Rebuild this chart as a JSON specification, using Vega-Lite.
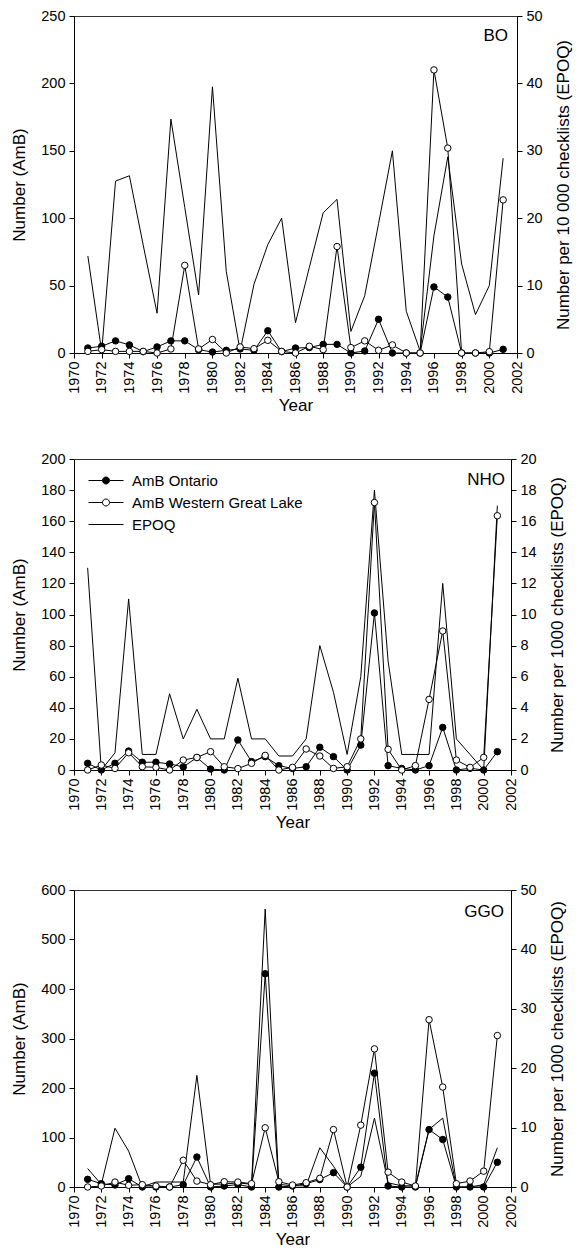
{
"$schema": "https://vega.github.io/schema/vega-lite/v6.json",
"padding": {"left": 10, "top": 7, "right": 5, "bottom": 0},
"data": {"values": [
{"panel":"BO","year":1971,"series":"AmB Ontario","value":3.7},
{"panel":"BO","year":1972,"series":"AmB Ontario","value":5},
{"panel":"BO","year":1973,"series":"AmB Ontario","value":9},
{"panel":"BO","year":1974,"series":"AmB Ontario","value":6},
{"panel":"BO","year":1975,"series":"AmB Ontario","value":1},
{"panel":"BO","year":1976,"series":"AmB Ontario","value":4.5},
{"panel":"BO","year":1977,"series":"AmB Ontario","value":9},
{"panel":"BO","year":1978,"series":"AmB Ontario","value":9},
{"panel":"BO","year":1979,"series":"AmB Ontario","value":2.5},
{"panel":"BO","year":1980,"series":"AmB Ontario","value":0.7},
{"panel":"BO","year":1981,"series":"AmB Ontario","value":2},
{"panel":"BO","year":1982,"series":"AmB Ontario","value":3},
{"panel":"BO","year":1983,"series":"AmB Ontario","value":2},
{"panel":"BO","year":1984,"series":"AmB Ontario","value":16.5},
{"panel":"BO","year":1985,"series":"AmB Ontario","value":1},
{"panel":"BO","year":1986,"series":"AmB Ontario","value":3.7},
{"panel":"BO","year":1987,"series":"AmB Ontario","value":4},
{"panel":"BO","year":1988,"series":"AmB Ontario","value":6.4},
{"panel":"BO","year":1989,"series":"AmB Ontario","value":6.4},
{"panel":"BO","year":1990,"series":"AmB Ontario","value":0},
{"panel":"BO","year":1991,"series":"AmB Ontario","value":1.5},
{"panel":"BO","year":1992,"series":"AmB Ontario","value":25},
{"panel":"BO","year":1993,"series":"AmB Ontario","value":0},
{"panel":"BO","year":1994,"series":"AmB Ontario","value":0},
{"panel":"BO","year":1995,"series":"AmB Ontario","value":0},
{"panel":"BO","year":1996,"series":"AmB Ontario","value":49},
{"panel":"BO","year":1997,"series":"AmB Ontario","value":41.5},
{"panel":"BO","year":1998,"series":"AmB Ontario","value":0},
{"panel":"BO","year":1999,"series":"AmB Ontario","value":0},
{"panel":"BO","year":2000,"series":"AmB Ontario","value":0},
{"panel":"BO","year":2001,"series":"AmB Ontario","value":2.7},
{"panel":"BO","year":1971,"series":"AmB Western Great Lake","value":1.2},
{"panel":"BO","year":1972,"series":"AmB Western Great Lake","value":2.5},
{"panel":"BO","year":1973,"series":"AmB Western Great Lake","value":1.2},
{"panel":"BO","year":1974,"series":"AmB Western Great Lake","value":1.2},
{"panel":"BO","year":1975,"series":"AmB Western Great Lake","value":1.2},
{"panel":"BO","year":1976,"series":"AmB Western Great Lake","value":0},
{"panel":"BO","year":1977,"series":"AmB Western Great Lake","value":3},
{"panel":"BO","year":1978,"series":"AmB Western Great Lake","value":65},
{"panel":"BO","year":1979,"series":"AmB Western Great Lake","value":3},
{"panel":"BO","year":1980,"series":"AmB Western Great Lake","value":10},
{"panel":"BO","year":1981,"series":"AmB Western Great Lake","value":0},
{"panel":"BO","year":1982,"series":"AmB Western Great Lake","value":4.5},
{"panel":"BO","year":1983,"series":"AmB Western Great Lake","value":3.2},
{"panel":"BO","year":1984,"series":"AmB Western Great Lake","value":9.4},
{"panel":"BO","year":1985,"series":"AmB Western Great Lake","value":1.2},
{"panel":"BO","year":1986,"series":"AmB Western Great Lake","value":0},
{"panel":"BO","year":1987,"series":"AmB Western Great Lake","value":5},
{"panel":"BO","year":1988,"series":"AmB Western Great Lake","value":2.5},
{"panel":"BO","year":1989,"series":"AmB Western Great Lake","value":79},
{"panel":"BO","year":1990,"series":"AmB Western Great Lake","value":4},
{"panel":"BO","year":1991,"series":"AmB Western Great Lake","value":9},
{"panel":"BO","year":1992,"series":"AmB Western Great Lake","value":2},
{"panel":"BO","year":1993,"series":"AmB Western Great Lake","value":6},
{"panel":"BO","year":1994,"series":"AmB Western Great Lake","value":0},
{"panel":"BO","year":1995,"series":"AmB Western Great Lake","value":0},
{"panel":"BO","year":1996,"series":"AmB Western Great Lake","value":210},
{"panel":"BO","year":1997,"series":"AmB Western Great Lake","value":152},
{"panel":"BO","year":1998,"series":"AmB Western Great Lake","value":0},
{"panel":"BO","year":1999,"series":"AmB Western Great Lake","value":0},
{"panel":"BO","year":2000,"series":"AmB Western Great Lake","value":1},
{"panel":"BO","year":2001,"series":"AmB Western Great Lake","value":113.6},
{"panel":"BO","year":1971,"series":"EPOQ","value":14.4},
{"panel":"BO","year":1972,"series":"EPOQ","value":0.2},
{"panel":"BO","year":1973,"series":"EPOQ","value":25.5},
{"panel":"BO","year":1974,"series":"EPOQ","value":26.3},
{"panel":"BO","year":1975,"series":"EPOQ","value":16},
{"panel":"BO","year":1976,"series":"EPOQ","value":5.9},
{"panel":"BO","year":1977,"series":"EPOQ","value":34.7},
{"panel":"BO","year":1978,"series":"EPOQ","value":21.6},
{"panel":"BO","year":1979,"series":"EPOQ","value":8.6},
{"panel":"BO","year":1980,"series":"EPOQ","value":39.5},
{"panel":"BO","year":1981,"series":"EPOQ","value":12.1},
{"panel":"BO","year":1982,"series":"EPOQ","value":0.3},
{"panel":"BO","year":1983,"series":"EPOQ","value":10.2},
{"panel":"BO","year":1984,"series":"EPOQ","value":16.1},
{"panel":"BO","year":1985,"series":"EPOQ","value":20},
{"panel":"BO","year":1986,"series":"EPOQ","value":4.5},
{"panel":"BO","year":1987,"series":"EPOQ","value":12.7},
{"panel":"BO","year":1988,"series":"EPOQ","value":20.8},
{"panel":"BO","year":1989,"series":"EPOQ","value":22.8},
{"panel":"BO","year":1990,"series":"EPOQ","value":3.2},
{"panel":"BO","year":1991,"series":"EPOQ","value":8.5},
{"panel":"BO","year":1992,"series":"EPOQ","value":19.2},
{"panel":"BO","year":1993,"series":"EPOQ","value":30},
{"panel":"BO","year":1994,"series":"EPOQ","value":6.2},
{"panel":"BO","year":1995,"series":"EPOQ","value":0.3},
{"panel":"BO","year":1996,"series":"EPOQ","value":17.4},
{"panel":"BO","year":1997,"series":"EPOQ","value":29.1},
{"panel":"BO","year":1998,"series":"EPOQ","value":13.2},
{"panel":"BO","year":1999,"series":"EPOQ","value":5.7},
{"panel":"BO","year":2000,"series":"EPOQ","value":10},
{"panel":"BO","year":2001,"series":"EPOQ","value":28.9},
{"panel":"NHO","year":1971,"series":"AmB Ontario","value":4.3},
{"panel":"NHO","year":1972,"series":"AmB Ontario","value":0},
{"panel":"NHO","year":1973,"series":"AmB Ontario","value":4.3},
{"panel":"NHO","year":1974,"series":"AmB Ontario","value":12.2},
{"panel":"NHO","year":1975,"series":"AmB Ontario","value":5},
{"panel":"NHO","year":1976,"series":"AmB Ontario","value":5},
{"panel":"NHO","year":1977,"series":"AmB Ontario","value":3.9},
{"panel":"NHO","year":1978,"series":"AmB Ontario","value":2},
{"panel":"NHO","year":1979,"series":"AmB Ontario","value":8},
{"panel":"NHO","year":1980,"series":"AmB Ontario","value":0.6},
{"panel":"NHO","year":1981,"series":"AmB Ontario","value":0},
{"panel":"NHO","year":1982,"series":"AmB Ontario","value":19.3},
{"panel":"NHO","year":1983,"series":"AmB Ontario","value":5.4},
{"panel":"NHO","year":1984,"series":"AmB Ontario","value":8.6},
{"panel":"NHO","year":1985,"series":"AmB Ontario","value":2.8},
{"panel":"NHO","year":1986,"series":"AmB Ontario","value":1},
{"panel":"NHO","year":1987,"series":"AmB Ontario","value":2.1},
{"panel":"NHO","year":1988,"series":"AmB Ontario","value":14.6},
{"panel":"NHO","year":1989,"series":"AmB Ontario","value":8.6},
{"panel":"NHO","year":1990,"series":"AmB Ontario","value":0},
{"panel":"NHO","year":1991,"series":"AmB Ontario","value":16},
{"panel":"NHO","year":1992,"series":"AmB Ontario","value":101},
{"panel":"NHO","year":1993,"series":"AmB Ontario","value":2.8},
{"panel":"NHO","year":1994,"series":"AmB Ontario","value":1},
{"panel":"NHO","year":1995,"series":"AmB Ontario","value":0},
{"panel":"NHO","year":1996,"series":"AmB Ontario","value":2.8},
{"panel":"NHO","year":1997,"series":"AmB Ontario","value":27.4},
{"panel":"NHO","year":1998,"series":"AmB Ontario","value":0},
{"panel":"NHO","year":1999,"series":"AmB Ontario","value":1.1},
{"panel":"NHO","year":2000,"series":"AmB Ontario","value":0},
{"panel":"NHO","year":2001,"series":"AmB Ontario","value":11.8},
{"panel":"NHO","year":1971,"series":"AmB Western Great Lake","value":0},
{"panel":"NHO","year":1972,"series":"AmB Western Great Lake","value":3.2},
{"panel":"NHO","year":1973,"series":"AmB Western Great Lake","value":1},
{"panel":"NHO","year":1974,"series":"AmB Western Great Lake","value":11.1},
{"panel":"NHO","year":1975,"series":"AmB Western Great Lake","value":2.1},
{"panel":"NHO","year":1976,"series":"AmB Western Great Lake","value":1.7},
{"panel":"NHO","year":1977,"series":"AmB Western Great Lake","value":0},
{"panel":"NHO","year":1978,"series":"AmB Western Great Lake","value":6.4},
{"panel":"NHO","year":1979,"series":"AmB Western Great Lake","value":8.1},
{"panel":"NHO","year":1980,"series":"AmB Western Great Lake","value":11.8},
{"panel":"NHO","year":1981,"series":"AmB Western Great Lake","value":2.1},
{"panel":"NHO","year":1982,"series":"AmB Western Great Lake","value":0.9},
{"panel":"NHO","year":1983,"series":"AmB Western Great Lake","value":4.3},
{"panel":"NHO","year":1984,"series":"AmB Western Great Lake","value":9.4},
{"panel":"NHO","year":1985,"series":"AmB Western Great Lake","value":0},
{"panel":"NHO","year":1986,"series":"AmB Western Great Lake","value":1.7},
{"panel":"NHO","year":1987,"series":"AmB Western Great Lake","value":13.5},
{"panel":"NHO","year":1988,"series":"AmB Western Great Lake","value":9},
{"panel":"NHO","year":1989,"series":"AmB Western Great Lake","value":1},
{"panel":"NHO","year":1990,"series":"AmB Western Great Lake","value":2.1},
{"panel":"NHO","year":1991,"series":"AmB Western Great Lake","value":20},
{"panel":"NHO","year":1992,"series":"AmB Western Great Lake","value":172},
{"panel":"NHO","year":1993,"series":"AmB Western Great Lake","value":13.3},
{"panel":"NHO","year":1994,"series":"AmB Western Great Lake","value":0},
{"panel":"NHO","year":1995,"series":"AmB Western Great Lake","value":2.8},
{"panel":"NHO","year":1996,"series":"AmB Western Great Lake","value":45.4},
{"panel":"NHO","year":1997,"series":"AmB Western Great Lake","value":89.4},
{"panel":"NHO","year":1998,"series":"AmB Western Great Lake","value":6.4},
{"panel":"NHO","year":1999,"series":"AmB Western Great Lake","value":1.7},
{"panel":"NHO","year":2000,"series":"AmB Western Great Lake","value":8.1},
{"panel":"NHO","year":2001,"series":"AmB Western Great Lake","value":163.5},
{"panel":"NHO","year":1971,"series":"EPOQ","value":13},
{"panel":"NHO","year":1972,"series":"EPOQ","value":0},
{"panel":"NHO","year":1973,"series":"EPOQ","value":1.1},
{"panel":"NHO","year":1974,"series":"EPOQ","value":11},
{"panel":"NHO","year":1975,"series":"EPOQ","value":1},
{"panel":"NHO","year":1976,"series":"EPOQ","value":1},
{"panel":"NHO","year":1977,"series":"EPOQ","value":4.9},
{"panel":"NHO","year":1978,"series":"EPOQ","value":2},
{"panel":"NHO","year":1979,"series":"EPOQ","value":3.9},
{"panel":"NHO","year":1980,"series":"EPOQ","value":2},
{"panel":"NHO","year":1981,"series":"EPOQ","value":2},
{"panel":"NHO","year":1982,"series":"EPOQ","value":5.9},
{"panel":"NHO","year":1983,"series":"EPOQ","value":2},
{"panel":"NHO","year":1984,"series":"EPOQ","value":2},
{"panel":"NHO","year":1985,"series":"EPOQ","value":0.9},
{"panel":"NHO","year":1986,"series":"EPOQ","value":0.9},
{"panel":"NHO","year":1987,"series":"EPOQ","value":2},
{"panel":"NHO","year":1988,"series":"EPOQ","value":8},
{"panel":"NHO","year":1989,"series":"EPOQ","value":5},
{"panel":"NHO","year":1990,"series":"EPOQ","value":1},
{"panel":"NHO","year":1991,"series":"EPOQ","value":6},
{"panel":"NHO","year":1992,"series":"EPOQ","value":18},
{"panel":"NHO","year":1993,"series":"EPOQ","value":7},
{"panel":"NHO","year":1994,"series":"EPOQ","value":1},
{"panel":"NHO","year":1995,"series":"EPOQ","value":1},
{"panel":"NHO","year":1996,"series":"EPOQ","value":1},
{"panel":"NHO","year":1997,"series":"EPOQ","value":12},
{"panel":"NHO","year":1998,"series":"EPOQ","value":2},
{"panel":"NHO","year":1999,"series":"EPOQ","value":1},
{"panel":"NHO","year":2000,"series":"EPOQ","value":0},
{"panel":"NHO","year":2001,"series":"EPOQ","value":17},
{"panel":"GGO","year":1971,"series":"AmB Ontario","value":15.5},
{"panel":"GGO","year":1972,"series":"AmB Ontario","value":6.7},
{"panel":"GGO","year":1973,"series":"AmB Ontario","value":4},
{"panel":"GGO","year":1974,"series":"AmB Ontario","value":16.8},
{"panel":"GGO","year":1975,"series":"AmB Ontario","value":0},
{"panel":"GGO","year":1976,"series":"AmB Ontario","value":0},
{"panel":"GGO","year":1977,"series":"AmB Ontario","value":0},
{"panel":"GGO","year":1978,"series":"AmB Ontario","value":4.7},
{"panel":"GGO","year":1979,"series":"AmB Ontario","value":60.5},
{"panel":"GGO","year":1980,"series":"AmB Ontario","value":0},
{"panel":"GGO","year":1981,"series":"AmB Ontario","value":2},
{"panel":"GGO","year":1982,"series":"AmB Ontario","value":5},
{"panel":"GGO","year":1983,"series":"AmB Ontario","value":0},
{"panel":"GGO","year":1984,"series":"AmB Ontario","value":430.8},
{"panel":"GGO","year":1985,"series":"AmB Ontario","value":0},
{"panel":"GGO","year":1986,"series":"AmB Ontario","value":2},
{"panel":"GGO","year":1987,"series":"AmB Ontario","value":6.7},
{"panel":"GGO","year":1988,"series":"AmB Ontario","value":15},
{"panel":"GGO","year":1989,"series":"AmB Ontario","value":29},
{"panel":"GGO","year":1990,"series":"AmB Ontario","value":0},
{"panel":"GGO","year":1991,"series":"AmB Ontario","value":40},
{"panel":"GGO","year":1992,"series":"AmB Ontario","value":230},
{"panel":"GGO","year":1993,"series":"AmB Ontario","value":2},
{"panel":"GGO","year":1994,"series":"AmB Ontario","value":0},
{"panel":"GGO","year":1995,"series":"AmB Ontario","value":0},
{"panel":"GGO","year":1996,"series":"AmB Ontario","value":116},
{"panel":"GGO","year":1997,"series":"AmB Ontario","value":96},
{"panel":"GGO","year":1998,"series":"AmB Ontario","value":0},
{"panel":"GGO","year":1999,"series":"AmB Ontario","value":0},
{"panel":"GGO","year":2000,"series":"AmB Ontario","value":0},
{"panel":"GGO","year":2001,"series":"AmB Ontario","value":50},
{"panel":"GGO","year":1971,"series":"AmB Western Great Lake","value":0},
{"panel":"GGO","year":1972,"series":"AmB Western Great Lake","value":2},
{"panel":"GGO","year":1973,"series":"AmB Western Great Lake","value":10},
{"panel":"GGO","year":1974,"series":"AmB Western Great Lake","value":3.4},
{"panel":"GGO","year":1975,"series":"AmB Western Great Lake","value":4.7},
{"panel":"GGO","year":1976,"series":"AmB Western Great Lake","value":2},
{"panel":"GGO","year":1977,"series":"AmB Western Great Lake","value":0},
{"panel":"GGO","year":1978,"series":"AmB Western Great Lake","value":54},
{"panel":"GGO","year":1979,"series":"AmB Western Great Lake","value":12},
{"panel":"GGO","year":1980,"series":"AmB Western Great Lake","value":4.7},
{"panel":"GGO","year":1981,"series":"AmB Western Great Lake","value":10.7},
{"panel":"GGO","year":1982,"series":"AmB Western Great Lake","value":10},
{"panel":"GGO","year":1983,"series":"AmB Western Great Lake","value":6.7},
{"panel":"GGO","year":1984,"series":"AmB Western Great Lake","value":119.6},
{"panel":"GGO","year":1985,"series":"AmB Western Great Lake","value":10.7},
{"panel":"GGO","year":1986,"series":"AmB Western Great Lake","value":4},
{"panel":"GGO","year":1987,"series":"AmB Western Great Lake","value":8.7},
{"panel":"GGO","year":1988,"series":"AmB Western Great Lake","value":17.5},
{"panel":"GGO","year":1989,"series":"AmB Western Great Lake","value":116},
{"panel":"GGO","year":1990,"series":"AmB Western Great Lake","value":0},
{"panel":"GGO","year":1991,"series":"AmB Western Great Lake","value":125},
{"panel":"GGO","year":1992,"series":"AmB Western Great Lake","value":279},
{"panel":"GGO","year":1993,"series":"AmB Western Great Lake","value":30},
{"panel":"GGO","year":1994,"series":"AmB Western Great Lake","value":10},
{"panel":"GGO","year":1995,"series":"AmB Western Great Lake","value":2},
{"panel":"GGO","year":1996,"series":"AmB Western Great Lake","value":338},
{"panel":"GGO","year":1997,"series":"AmB Western Great Lake","value":202},
{"panel":"GGO","year":1998,"series":"AmB Western Great Lake","value":6.7},
{"panel":"GGO","year":1999,"series":"AmB Western Great Lake","value":12},
{"panel":"GGO","year":2000,"series":"AmB Western Great Lake","value":32},
{"panel":"GGO","year":2001,"series":"AmB Western Great Lake","value":306},
{"panel":"GGO","year":1971,"series":"EPOQ","value":3.1},
{"panel":"GGO","year":1972,"series":"EPOQ","value":0.45},
{"panel":"GGO","year":1973,"series":"EPOQ","value":9.9},
{"panel":"GGO","year":1974,"series":"EPOQ","value":6.05},
{"panel":"GGO","year":1975,"series":"EPOQ","value":0},
{"panel":"GGO","year":1976,"series":"EPOQ","value":0.84},
{"panel":"GGO","year":1977,"series":"EPOQ","value":0.84},
{"panel":"GGO","year":1978,"series":"EPOQ","value":0.84},
{"panel":"GGO","year":1979,"series":"EPOQ","value":18.8},
{"panel":"GGO","year":1980,"series":"EPOQ","value":0.45},
{"panel":"GGO","year":1981,"series":"EPOQ","value":0.5},
{"panel":"GGO","year":1982,"series":"EPOQ","value":0.7},
{"panel":"GGO","year":1983,"series":"EPOQ","value":0.45},
{"panel":"GGO","year":1984,"series":"EPOQ","value":46.8},
{"panel":"GGO","year":1985,"series":"EPOQ","value":0.45},
{"panel":"GGO","year":1986,"series":"EPOQ","value":0.2},
{"panel":"GGO","year":1987,"series":"EPOQ","value":0.2},
{"panel":"GGO","year":1988,"series":"EPOQ","value":6.6},
{"panel":"GGO","year":1989,"series":"EPOQ","value":3.5},
{"panel":"GGO","year":1990,"series":"EPOQ","value":0},
{"panel":"GGO","year":1991,"series":"EPOQ","value":1.8},
{"panel":"GGO","year":1992,"series":"EPOQ","value":11.6},
{"panel":"GGO","year":1993,"series":"EPOQ","value":0.7},
{"panel":"GGO","year":1994,"series":"EPOQ","value":0.2},
{"panel":"GGO","year":1995,"series":"EPOQ","value":0.2},
{"panel":"GGO","year":1996,"series":"EPOQ","value":9.7},
{"panel":"GGO","year":1997,"series":"EPOQ","value":11.6},
{"panel":"GGO","year":1998,"series":"EPOQ","value":0},
{"panel":"GGO","year":1999,"series":"EPOQ","value":0},
{"panel":"GGO","year":2000,"series":"EPOQ","value":0.4},
{"panel":"GGO","year":2001,"series":"EPOQ","value":6.6}
]},
"spacing": 50,
"resolve": {"scale": {"fill": "independent"}},
"vconcat": [
{
"spacing": 36,
"resolve": {"scale": {"fill": "independent"}},
"vconcat": [
{
 "width": 443, "height": 337,
 "title": {"text": "BO", "anchor": "end", "orient": "top", "offset": -50, "dx": -9, "baseline": "alphabetic", "frame": "group"},
 "transform": [{"filter": "datum.panel === 'BO'"}],
 "encoding": {"x": {"field": "year", "type": "quantitative", "scale": {"domain": [1970, 2002], "nice": false, "zero": false}, "axis": {"values": [1970,1972,1974,1976,1978,1980,1982,1984,1986,1988,1990,1992,1994,1996,1998,2000,2002], "format": "d", "labelAngle": -90, "title": "Year"}}},
 "layer": [
  {"transform": [{"filter": "datum.series === 'EPOQ'"}],
   "mark": {"type": "line", "color": "#000", "strokeWidth": 1},
   "encoding": {"y": {"field": "value", "type": "quantitative", "scale": {"domain": [0, 50], "nice": false}, "axis": {"orient": "right", "values": [0,10,20,30,40,50], "title": "Number per 10 000 checklists (EPOQ)", "titleAngle": 270, "titleBaseline": "top"}}}},
  {"transform": [{"filter": "datum.series !== 'EPOQ'"}],
   "encoding": {"y": {"field": "value", "type": "quantitative", "scale": {"domain": [0, 250], "nice": false}, "axis": {"orient": "left", "values": [0,50,100,150,200,250], "title": "Number (AmB)"}}},
   "layer": [
    {"mark": {"type": "line", "color": "#000", "strokeWidth": 1}, "encoding": {"detail": {"field": "series", "type": "nominal"}}},
    {"mark": {"type": "point", "shape": "circle", "filled": true, "stroke": "#000", "strokeWidth": 1, "size": 42, "opacity": 1},
     "encoding": {"fill": {"field": "series", "type": "nominal", "scale": {"domain": ["AmB Ontario", "AmB Western Great Lake", "EPOQ"], "range": ["#000", "#fff", "#fff"]}, "legend": null}}}
   ]}
 ],
 "resolve": {"scale": {"y": "independent"}}
},
{
 "width": 437, "height": 311,
 "title": {"text": "NHO", "anchor": "end", "orient": "top", "offset": -51, "dx": -6, "baseline": "alphabetic", "frame": "group"},
 "transform": [{"filter": "datum.panel === 'NHO'"}],
 "encoding": {"x": {"field": "year", "type": "quantitative", "scale": {"domain": [1970, 2002], "nice": false, "zero": false}, "axis": {"values": [1970,1972,1974,1976,1978,1980,1982,1984,1986,1988,1990,1992,1994,1996,1998,2000,2002], "format": "d", "labelAngle": -90, "title": "Year"}}},
 "layer": [
  {"transform": [{"filter": "datum.series === 'EPOQ'"}],
   "mark": {"type": "line", "color": "#000", "strokeWidth": 1},
   "encoding": {"y": {"field": "value", "type": "quantitative", "scale": {"domain": [0, 20], "nice": false}, "axis": {"orient": "right", "values": [0,2,4,6,8,10,12,14,16,18,20], "title": "Number per 1000 checklists (EPOQ)", "titleAngle": 270, "titleBaseline": "top"}}}},
  {"transform": [{"filter": "datum.series !== 'EPOQ'"}],
   "encoding": {"y": {"field": "value", "type": "quantitative", "scale": {"domain": [0, 200], "nice": false}, "axis": {"orient": "left", "values": [0,20,40,60,80,100,120,140,160,180,200], "title": "Number (AmB)"}}},
   "layer": [
    {"mark": {"type": "line", "color": "#000", "strokeWidth": 1}, "encoding": {"detail": {"field": "series", "type": "nominal"}}},
    {"mark": {"type": "point", "shape": "circle", "filled": true, "stroke": "#000", "strokeWidth": 1, "size": 42, "opacity": 1},
     "encoding": {"fill": {"field": "series", "type": "nominal", "scale": {"domain": ["AmB Ontario", "AmB Western Great Lake", "EPOQ"], "range": ["#000", "#fff", "#fff"]},
       "legend": {"title": null, "orient": "top-left", "offset": 14, "padding": 0, "symbolSize": 1225, "clipHeight": 15, "rowPadding": 6, "labelFontSize": 15, "labelOffset": 8, "labelLimit": 400, "labelColor": "#000", "labelFont": "Liberation Sans",
         "symbolType": {"expr": "datum.value === 'EPOQ' ? 'M-1,0H1' : 'M-1,0H-0.2M0.2,0C0.2,0.1105,0.1105,0.2,0,0.2C-0.1105,0.2,-0.2,0.1105,-0.2,0C-0.2,-0.1105,-0.1105,-0.2,0,-0.2C0.1105,-0.2,0.2,-0.1105,0.2,0ZM0.2,0H1'"},
         "symbolStrokeColor": "#000", "symbolStrokeWidth": 1, "symbolOpacity": 1}}}}
   ]}
 ],
 "resolve": {"scale": {"y": "independent"}}
}
]
},
{
 "width": 437, "height": 297,
 "title": {"text": "GGO", "anchor": "end", "orient": "top", "offset": -52, "dx": -7, "baseline": "alphabetic", "frame": "group"},
 "transform": [{"filter": "datum.panel === 'GGO'"}],
 "encoding": {"x": {"field": "year", "type": "quantitative", "scale": {"domain": [1970, 2002], "nice": false, "zero": false}, "axis": {"values": [1970,1972,1974,1976,1978,1980,1982,1984,1986,1988,1990,1992,1994,1996,1998,2000,2002], "format": "d", "labelAngle": -90, "title": "Year"}}},
 "layer": [
  {"transform": [{"filter": "datum.series === 'EPOQ'"}],
   "mark": {"type": "line", "color": "#000", "strokeWidth": 1},
   "encoding": {"y": {"field": "value", "type": "quantitative", "scale": {"domain": [0, 50], "nice": false}, "axis": {"orient": "right", "values": [0,10,20,30,40,50], "title": "Number per 1000 checklists (EPOQ)", "titleAngle": 270, "titleBaseline": "top"}}}},
  {"transform": [{"filter": "datum.series !== 'EPOQ'"}],
   "encoding": {"y": {"field": "value", "type": "quantitative", "scale": {"domain": [0, 600], "nice": false}, "axis": {"orient": "left", "values": [0,100,200,300,400,500,600], "title": "Number (AmB)"}}},
   "layer": [
    {"mark": {"type": "line", "color": "#000", "strokeWidth": 1}, "encoding": {"detail": {"field": "series", "type": "nominal"}}},
    {"mark": {"type": "point", "shape": "circle", "filled": true, "stroke": "#000", "strokeWidth": 1, "size": 42, "opacity": 1},
     "encoding": {"fill": {"field": "series", "type": "nominal", "scale": {"domain": ["AmB Ontario", "AmB Western Great Lake", "EPOQ"], "range": ["#000", "#fff", "#fff"]}, "legend": null}}}
   ]}
 ],
 "resolve": {"scale": {"y": "independent"}}
}
],
"config": {
 "font": "Liberation Sans",
 "background": "#ffffff",
 "view": {"stroke": "#333", "strokeWidth": 1},
 "axis": {"grid": false, "domainColor": "#000", "tickColor": "#000", "labelColor": "#000", "titleColor": "#000", "labelFontSize": 14.5, "titleFontSize": 17, "titleFontWeight": "normal", "tickSize": 5, "labelPadding": 4, "domainWidth": 1, "tickWidth": 1, "labelFont": "Liberation Sans", "titleFont": "Liberation Sans"},
 "axisX": {"titlePadding": 4, "labelPadding": 3},
 "axisLeft": {"titlePadding": 12},
 "axisRight": {"titlePadding": 13},
 "title": {"fontSize": 17, "fontWeight": "normal", "color": "#000", "font": "Liberation Sans"}
}
}
